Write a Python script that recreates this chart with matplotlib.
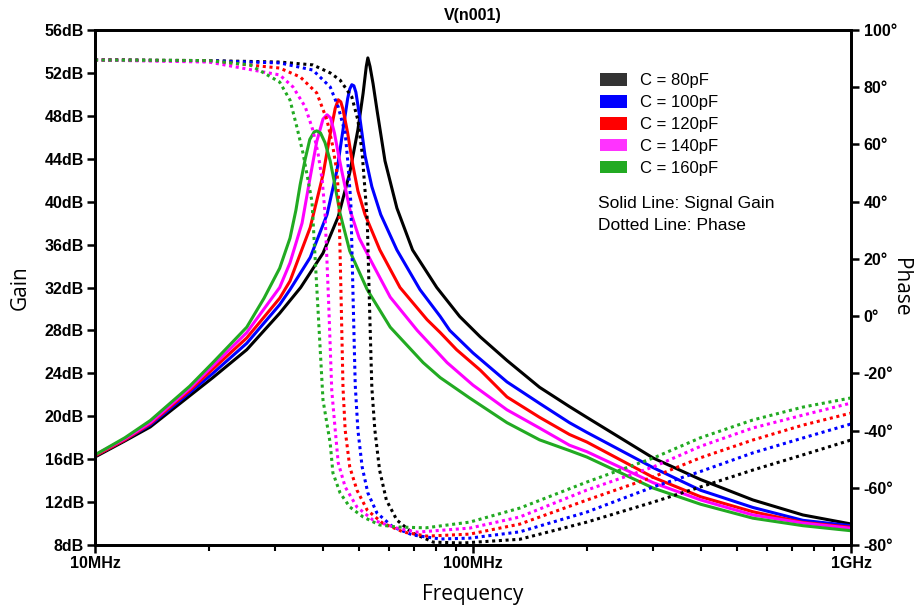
import matplotlib
matplotlib.use("Agg")
import matplotlib.pyplot as plt
from matplotlib.patches import Patch
from matplotlib.ticker import FixedLocator, FuncFormatter, NullFormatter

# ---- data (frequency in MHz) ----
LABELS = ["C = 80pF", "C = 100pF", "C = 120pF", "C = 140pF", "C = 160pF"]
COLORS = ["#000000", "#0000ff", "#ff0000", "#ff00ff", "#22aa22"]
PATCH_COLORS = ["#333333", "#0000ff", "#ff0000", "#ff33ff", "#22aa22"]

# gain curves (dB)
f_gain_80 = [10, 12, 14, 17.8, 20.5, 25.2, 30.8, 35, 40.1, 44.0, 47.2, 49.6, 51.2, 52.2, 52.7, 53.4, 54.4,
             55.8, 58.5, 62.9, 69.2, 80.2, 92.2, 104.5, 123, 150, 180, 200, 300, 400, 550, 746, 1000]
gain_80 = [16.2, 17.7, 19.0, 21.9, 23.6, 26.2, 29.6, 32.0, 35.2, 38.6, 42.7, 46.7, 50.1, 52.6, 53.4, 52.6, 51.0,
           48.4, 43.8, 39.4, 35.5, 32.0, 29.3, 27.4, 25.2, 22.7, 20.9, 19.9, 16.1, 14.1, 12.2, 10.8, 9.96]

f_gain_100 = [10, 12, 14, 17.8, 20.5, 25.2, 30.8, 32.8, 37.1, 41.1, 43.7, 45.3, 46.6, 47.2, 47.8, 48.4, 49.0,
              50.2, 51.8, 54.0, 57.0, 62.9, 72.4, 81.9, 86.8, 100, 123, 150, 180, 200, 300, 400, 550, 746, 1000]
gain_100 = [16.3, 17.8, 19.2, 22.2, 24.0, 26.8, 30.4, 31.8, 34.8, 38.8, 43.0, 46.7, 49.6, 50.5, 50.9, 50.8, 50.2,
            47.8, 44.3, 41.4, 38.8, 35.5, 31.8, 29.3, 28.0, 25.9, 23.2, 21.2, 19.4, 18.5, 15.2, 13.1, 11.5, 10.3, 9.8]

f_gain_120 = [10, 12, 14, 17.8, 20.5, 25.2, 30.8, 32.8, 37.1, 40.1, 41.9, 43.2, 44.0, 44.7, 45.3, 46.6, 48.1,
              49.6, 51.8, 56.7, 64.1, 75.6, 81.9, 90.5, 104.5, 123, 150, 180, 200, 300, 400, 550, 746, 1000]
gain_120 = [16.3, 17.8, 19.3, 22.4, 24.4, 27.3, 31.0, 32.6, 37.6, 42.5, 46.3, 48.7, 49.5, 49.3, 48.6, 46.4, 43.4,
            41.0, 38.8, 35.5, 32.0, 29.0, 27.8, 26.2, 24.3, 21.8, 19.9, 18.3, 17.6, 14.3, 12.5, 11.1, 10.1, 9.65]

f_gain_140 = [10, 12, 14, 17.8, 20.5, 25.2, 30.8, 32.8, 35.3, 37.1, 38.6, 40.1, 41.1, 42.0, 43.0, 44.0, 45.0,
              47.2, 50.0, 53.5, 60.4, 71.2, 85.4, 100, 123, 150, 180, 200, 300, 400, 550, 746, 1000]
gain_140 = [16.4, 17.9, 19.4, 22.6, 24.7, 27.8, 32.0, 34.3, 38.0, 42.3, 45.6, 47.7, 48.1, 47.8, 46.4, 44.5, 42.8,
            39.3, 36.6, 34.6, 31.1, 28.0, 25.0, 22.9, 20.6, 18.9, 17.3, 16.7, 13.8, 12.2, 10.8, 10.05, 9.56]

f_gain_160 = [10, 12, 14, 17.8, 20.5, 25.2, 28, 30.8, 32.8, 34.0, 34.9, 36.0, 37.0, 38.0, 38.6, 39.5, 40.6,
              41.9, 43.2, 44.5, 47.2, 52.5, 60.4, 73.8, 81.9, 98, 123, 150, 180, 200, 300, 400, 550, 746, 1000]
gain_160 = [16.4, 18.0, 19.6, 22.8, 25.0, 28.3, 31.0, 33.8, 36.6, 39.2, 41.6, 44.0, 45.8, 46.5, 46.6, 46.4, 45.5,
            43.8, 41.4, 38.9, 35.4, 31.8, 28.3, 25.0, 23.6, 21.7, 19.4, 17.8, 16.8, 16.2, 13.3, 11.8, 10.5, 9.8, 9.33]

# phase curves (degrees)
f_phase_80 = [10, 20, 30.8, 37.7, 41.9, 44.5, 47.8, 49.6, 50.9, 51.8, 52.5, 53.2, 54.0, 55.0, 56.6, 59.0,
              62.9, 69.2, 78.5, 94, 133, 200, 300, 400, 550, 746, 1000]
phase_80 = [89.6, 89.3, 88.8, 87.8, 85.0, 82.5, 76.6, 68.5, 57.0, 44.0, 34.0, 5.0, -25.0, -39.8, -53.8, -64.3,
            -71.3, -75.8, -79.0, -79.3, -78.0, -72.0, -65.0, -59.7, -53.8, -48.5, -43.3]

f_phase_100 = [10, 20, 30.8, 37.7, 41.9, 44.0, 45.9, 46.6, 47.5, 48.2, 48.8, 49.6, 50.9, 52.7, 55.7, 61.4,
               69.2, 81.9, 98, 133, 200, 300, 400, 550, 746, 1000]
phase_100 = [89.5, 89.2, 88.5, 86.0, 80.1, 73.1, 64.0, 54.6, 40.0, 5.0, -24.0, -39.8, -52.7, -61.8, -68.8, -73.7,
             -76.5, -77.9, -77.6, -75.4, -68.5, -59.7, -54.3, -47.8, -42.6, -37.7]

f_phase_120 = [10, 20, 30.8, 34.9, 38.6, 41.1, 42.6, 43.7, 44.2, 44.8, 45.3, 45.9, 47.2, 49.3, 52.5, 57.6,
               65.5, 75.6, 98, 133, 200, 300, 400, 550, 746, 1000]
phase_120 = [89.5, 89.2, 86.7, 83.6, 78.0, 68.5, 59.1, 50.0, 39.0, 5.0, -25.0, -39.8, -52.7, -60.8, -67.8, -72.3,
             -75.5, -76.9, -76.2, -72.7, -64.3, -56.2, -49.5, -43.3, -38.1, -33.9]

f_phase_140 = [10, 20, 30.8, 33.4, 36.0, 37.7, 38.9, 39.9, 40.6, 41.5, 42.3, 43.2, 44.0, 45.9, 49.3, 54.4,
               62.9, 71.2, 98, 133, 200, 300, 400, 550, 746, 1000]
phase_140 = [89.5, 88.8, 84.3, 80.1, 73.1, 65.0, 57.0, 47.6, 36.0, 5.0, -26.0, -39.8, -51.3, -59.7, -66.7, -71.3,
             -74.1, -75.5, -74.1, -70.2, -60.8, -52.7, -45.5, -39.1, -34.6, -30.4]

f_phase_160 = [10, 20, 25.7, 30.8, 32.8, 34.2, 35.5, 36.6, 37.5, 38.8, 40.1, 41.9, 42.6, 44.5, 47.2, 51.2,
               56.6, 62.9, 75, 98, 133, 200, 300, 400, 550, 746, 1000]
phase_160 = [89.5, 89.3, 87.8, 81.8, 75.5, 66.1, 57.0, 47.6, 40.0, 5.0, -29.3, -44.4, -54.8, -61.8, -66.7, -70.2,
             -73.0, -73.7, -74.0, -72.0, -67.1, -58.0, -49.6, -42.5, -36.3, -31.8, -28.6]

gain_f = [f_gain_80, f_gain_100, f_gain_120, f_gain_140, f_gain_160]
gain_v = [gain_80, gain_100, gain_120, gain_140, gain_160]
phase_f = [f_phase_80, f_phase_100, f_phase_120, f_phase_140, f_phase_160]
phase_v = [phase_80, phase_100, phase_120, phase_140, phase_160]

TICK_FONT = "Liberation Sans"
LABEL_FONT = "Open Sans"

fig = plt.figure(figsize=(9.21, 6.09), dpi=100)
ax = fig.add_axes([95 / 921, 1 - 545 / 609, 756 / 921, 515 / 609])
ax2 = ax.twinx()

for fx, gy, col in zip(gain_f, gain_v, COLORS):
    ax.plot(fx, gy, color=col, lw=2.2, solid_joinstyle="round")
for fx, py, col in zip(phase_f, phase_v, COLORS):
    ax2.plot(fx, py, color=col, lw=2.2, linestyle=(0, (1, 1.2)), dash_capstyle="butt")

ax.set_xscale("log")
ax.set_xlim(10, 1000)
ax.set_ylim(8, 56)
ax2.set_ylim(-80, 100)

ax.xaxis.set_major_locator(FixedLocator([10, 100, 1000]))
ax.xaxis.set_major_formatter(FuncFormatter(lambda v, p: {10: "10MHz", 100: "100MHz", 1000: "1GHz"}.get(int(round(v)), "")))
ax.xaxis.set_minor_locator(FixedLocator([20, 30, 40, 50, 60, 70, 80, 90, 200, 300, 400, 500, 600, 700, 800, 900]))
ax.xaxis.set_minor_formatter(NullFormatter())
ax.set_yticks(range(8, 57, 4))
ax.yaxis.set_major_formatter(FuncFormatter(lambda v, p: f"{v:.0f}dB"))
ax2.set_yticks(range(-80, 101, 20))
ax2.yaxis.set_major_formatter(FuncFormatter(lambda v, p: f"{v:.0f}°"))

for a in (ax, ax2):
    for s in a.spines.values():
        s.set_linewidth(2)
    a.tick_params(which="major", length=6, width=1.8, direction="out")
    a.tick_params(which="minor", length=4, width=1.5, direction="out")
    for lab in a.get_xticklabels() + a.get_yticklabels():
        lab.set_fontfamily(TICK_FONT)
        lab.set_fontweight("bold")
        lab.set_fontsize(11.5)
ax.tick_params(axis="y", pad=2)
ax2.tick_params(axis="y", pad=3)
ax.tick_params(axis="x", which="major", pad=2)

ax.set_xlabel("Frequency", fontfamily=LABEL_FONT, fontsize=15, labelpad=9)
ax.set_ylabel("Gain", fontfamily=LABEL_FONT, fontsize=15, labelpad=10)
ax2.set_ylabel("Phase", fontfamily=LABEL_FONT, fontsize=15, rotation=270, labelpad=10)
ax.set_title("V(n001)", fontfamily=TICK_FONT, fontweight="bold", fontsize=11.5, pad=7)

handles = [Patch(facecolor=c, edgecolor="none") for c in PATCH_COLORS]
leg = ax2.legend(handles, LABELS, loc="upper left", bbox_to_anchor=(0.668, 0.916), frameon=False,
                 borderpad=0, borderaxespad=0, handlelength=1.62, handleheight=0.78, handletextpad=0.8,
                 labelspacing=0.41, prop={"family": TICK_FONT, "size": 12})
ax2.text(0.665, 0.664, "Solid Line: Signal Gain", transform=ax.transAxes, fontfamily=TICK_FONT, fontsize=12.5, va="center")
ax2.text(0.665, 0.621, "Dotted Line: Phase", transform=ax.transAxes, fontfamily=TICK_FONT, fontsize=12.5, va="center")

fig.savefig("out.png", dpi=100)
